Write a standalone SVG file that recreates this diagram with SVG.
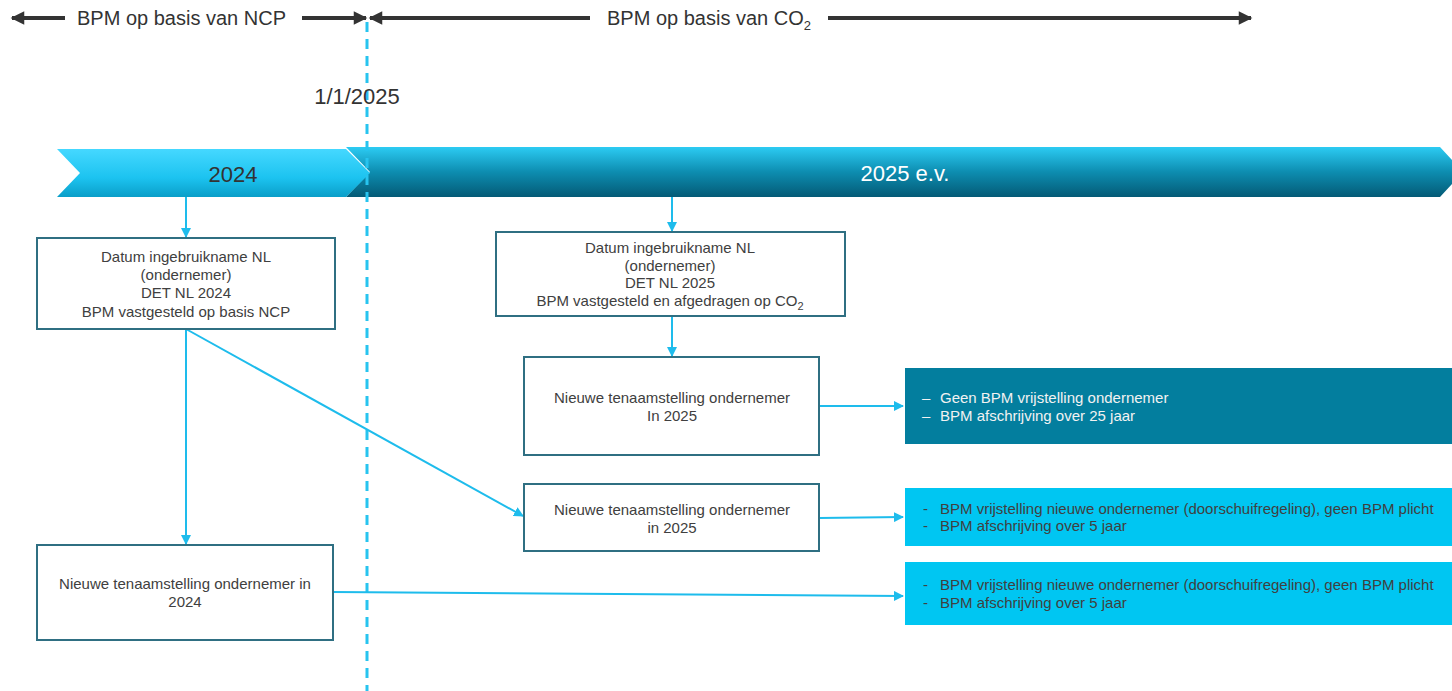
<svg xmlns="http://www.w3.org/2000/svg" width="1452" height="691" viewBox="0 0 1452 691">
<style>
text{font-family:"Liberation Sans",Arial,sans-serif;fill:#404040}
.top{font-size:20px;fill:#333}
.box rect{fill:#fff;stroke:#2f6f82;stroke-width:2}
.bt{font-size:15px;text-anchor:middle}
.rt{font-size:15px}
.conn line,.conn path{stroke:#1ebcec;stroke-width:2;fill:none}
.tl{stroke:#333;stroke-width:4}
</style>
<defs>
<linearGradient id="g24" x1="0" y1="0" x2="0" y2="1">
<stop offset="0" stop-color="#45d8ff"/><stop offset="0.6" stop-color="#1cc3f0"/><stop offset="1" stop-color="#0a9ec8"/>
</linearGradient>
<linearGradient id="g25" x1="0" y1="0" x2="0" y2="1">
<stop offset="0" stop-color="#2ccbf3"/><stop offset="0.5" stop-color="#0d8db0"/><stop offset="1" stop-color="#045a76"/>
</linearGradient>
<marker id="ah" viewBox="0 0 10 10" refX="9" refY="5" markerWidth="5" markerHeight="5" orient="auto" markerUnits="strokeWidth">
<path d="M0,0 L10,5 L0,10 z" fill="#1ebcec"/>
</marker>
<marker id="bh" viewBox="0 0 10 10" refX="9" refY="5" markerWidth="4" markerHeight="3.4" orient="auto-start-reverse" markerUnits="strokeWidth">
<path d="M0,0 L10,5 L0,10 z" fill="#333"/>
</marker>
</defs>

<g id="timeline-arrows">
<line class="tl" x1="65" y1="18" x2="12" y2="18" marker-end="url(#bh)"/>
<text class="top" x="77" y="25">BPM op basis van NCP</text>
<line class="tl" x1="302" y1="18" x2="366" y2="18" marker-end="url(#bh)"/>
<line class="tl" x1="590" y1="18" x2="370" y2="18" marker-end="url(#bh)"/>
<text class="top" x="607" y="25">BPM op basis van CO<tspan font-size="13" dy="5">2</tspan></text>
<line class="tl" x1="828" y1="18" x2="1251" y2="18" marker-end="url(#bh)"/>
</g>

<g id="band-2025">
<polygon points="346,147 1440,147 1463,172 1440,197 346,197 370,172" fill="url(#g25)"/>
<text x="905" y="181" font-size="22" text-anchor="middle" style="fill:#fff">2025 e.v.</text>
</g>
<g id="band-2024">
<polygon points="57,149 346,149 370,173 346,197 57,197 80,173" fill="url(#g24)"/>
<text x="233" y="182" font-size="22" text-anchor="middle" style="fill:#333">2024</text>
</g>

<g id="date-line">
<line x1="367" y1="22" x2="367" y2="691" stroke="#27c4ef" stroke-width="3" stroke-dasharray="10 7"/>
<text x="357" y="104" font-size="22" text-anchor="middle" style="fill:#333">1/1/2025</text>
</g>

<g class="conn" id="connectors">
<line x1="186" y1="197" x2="186" y2="237" marker-end="url(#ah)"/>
<line x1="672" y1="197" x2="672" y2="231" marker-end="url(#ah)"/>
<line x1="672" y1="316" x2="672" y2="356" marker-end="url(#ah)"/>
<line x1="819" y1="406" x2="903" y2="406" marker-end="url(#ah)"/>
<line x1="186" y1="329" x2="523" y2="516" marker-end="url(#ah)"/>
<line x1="819" y1="518" x2="903" y2="517" marker-end="url(#ah)"/>
<line x1="186" y1="329" x2="186" y2="544" marker-end="url(#ah)"/>
<line x1="333" y1="592" x2="903" y2="596" marker-end="url(#ah)"/>
</g>

<g class="box" id="box-2024-ingebruikname">
<rect x="37" y="238" width="298" height="91"/>
<text class="bt" x="186" y="262">Datum ingebruikname NL</text>
<text class="bt" x="186" y="280">(ondernemer)</text>
<text class="bt" x="186" y="298">DET NL 2024</text>
<text class="bt" x="186" y="317">BPM vastgesteld op basis NCP</text>
</g>

<g class="box" id="box-2025-ingebruikname">
<rect x="496" y="232" width="349" height="84"/>
<text class="bt" x="670" y="253">Datum ingebruikname NL</text>
<text class="bt" x="670" y="271">(ondernemer)</text>
<text class="bt" x="670" y="288">DET NL 2025</text>
<text class="bt" x="670" y="306">BPM vastgesteld en afgedragen op CO<tspan font-size="11" dy="4">2</tspan></text>
</g>

<g class="box" id="box-tenaam-2025a">
<rect x="524" y="357" width="295" height="98"/>
<text class="bt" x="672" y="403">Nieuwe tenaamstelling ondernemer</text>
<text class="bt" x="672" y="421">In 2025</text>
</g>

<g class="box" id="box-tenaam-2025b">
<rect x="524" y="484" width="295" height="67"/>
<text class="bt" x="672" y="515">Nieuwe tenaamstelling ondernemer</text>
<text class="bt" x="672" y="533">in 2025</text>
</g>

<g class="box" id="box-tenaam-2024">
<rect x="37" y="545" width="296" height="95"/>
<text class="bt" x="185" y="589">Nieuwe tenaamstelling ondernemer in</text>
<text class="bt" x="185" y="607">2024</text>
</g>

<g id="result-1">
<rect x="905" y="368" width="547" height="76" fill="#037e9e"/>
<text class="rt" x="922" y="403" style="fill:#f2f2f2">–</text>
<text class="rt" x="940" y="403" style="fill:#f2f2f2">Geen BPM vrijstelling ondernemer</text>
<text class="rt" x="922" y="421" style="fill:#f2f2f2">–</text>
<text class="rt" x="940" y="421" style="fill:#f2f2f2">BPM afschrijving over 25 jaar</text>
</g>

<g id="result-2">
<rect x="905" y="488" width="547" height="58" fill="#00c6f2"/>
<text class="rt" x="923" y="514">-</text>
<text class="rt" x="940" y="514">BPM vrijstelling nieuwe ondernemer (doorschuifregeling), geen BPM plicht</text>
<text class="rt" x="923" y="531">-</text>
<text class="rt" x="940" y="531">BPM afschrijving over 5 jaar</text>
</g>

<g id="result-3">
<rect x="905" y="562" width="547" height="63" fill="#00c6f2"/>
<text class="rt" x="923" y="590">-</text>
<text class="rt" x="940" y="590">BPM vrijstelling nieuwe ondernemer (doorschuifregeling), geen BPM plicht</text>
<text class="rt" x="923" y="608">-</text>
<text class="rt" x="940" y="608">BPM afschrijving over 5 jaar</text>
</g>
</svg>
